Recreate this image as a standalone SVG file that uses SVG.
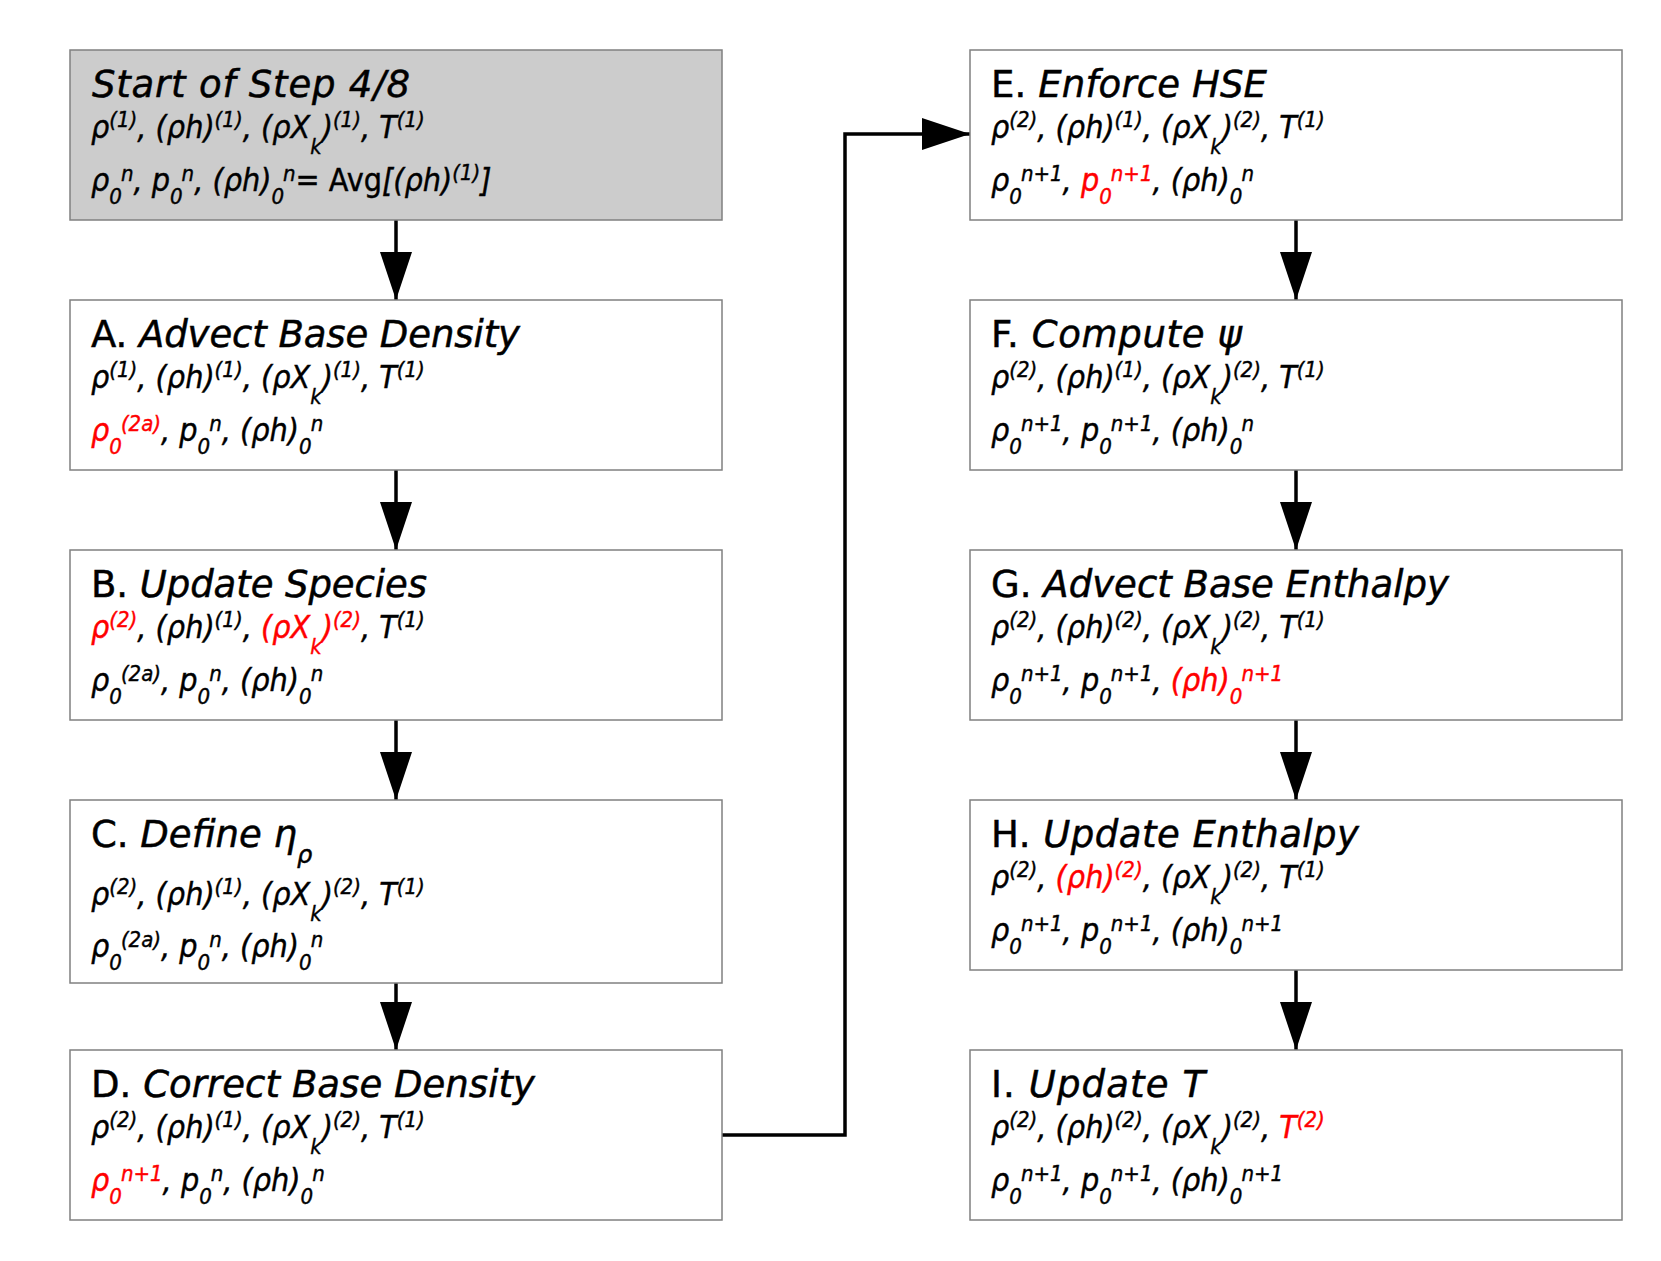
<svg xmlns="http://www.w3.org/2000/svg" width="1661" height="1261" viewBox="0 0 1661 1261">
<style>
.box{fill:#fff;stroke:#808080;stroke-width:1.5}
.gray{fill:#cccccc}
text{font-family:"DejaVu Sans",sans-serif;fill:#000;stroke:#000}
.ttl{font-size:37px;font-style:italic;stroke-width:0.5}
.ln{font-family:"DejaVu Sans Condensed","DejaVu Sans",sans-serif;font-size:32px;font-style:italic;stroke-width:0.4}
.s{font-size:22px}
.u{font-style:normal}
.r{fill:#ff0000;stroke:#ff0000}
.cn{fill:none;stroke:#000;stroke-width:3.5}
</style>
<defs>
<marker id="ah" markerUnits="userSpaceOnUse" markerWidth="48" markerHeight="32" refX="48" refY="16" orient="auto">
<path d="M0,0 L48,16 L0,32 Z" fill="#000"/>
</marker>
</defs>
<rect width="1661" height="1261" fill="#fff"/>
<g id="connectors">
<line class="cn" x1="396" y1="220" x2="396" y2="300" marker-end="url(#ah)"/>
<line class="cn" x1="396" y1="470" x2="396" y2="550" marker-end="url(#ah)"/>
<line class="cn" x1="396" y1="720" x2="396" y2="800" marker-end="url(#ah)"/>
<line class="cn" x1="396" y1="983" x2="396" y2="1050" marker-end="url(#ah)"/>
<polyline class="cn" points="722,1135 845,1135 845,134 970,134" marker-end="url(#ah)"/>
<line class="cn" x1="1296" y1="220" x2="1296" y2="300" marker-end="url(#ah)"/>
<line class="cn" x1="1296" y1="470" x2="1296" y2="550" marker-end="url(#ah)"/>
<line class="cn" x1="1296" y1="720" x2="1296" y2="800" marker-end="url(#ah)"/>
<line class="cn" x1="1296" y1="970" x2="1296" y2="1050" marker-end="url(#ah)"/>
</g>
<g id="start">
<rect class="box gray" x="70" y="50" width="652" height="170"/>
<text class="ttl" x="92" y="97" textLength="318" lengthAdjust="spacing">Start of Step 4/8</text>
<text class="ln" x="91" y="138">ρ<tspan class="s" dy="-11">(1)</tspan><tspan dy="11">, (ρh)</tspan><tspan class="s" dy="-11">(1)</tspan><tspan dy="11">, (ρX</tspan><tspan class="s" dy="16">k</tspan><tspan dy="-16">)</tspan><tspan class="s" dy="-11">(1)</tspan><tspan dy="11">, T</tspan><tspan class="s" dy="-11">(1)</tspan></text>
<text class="ln" x="91" y="191">ρ<tspan class="s" dy="13">0</tspan><tspan class="s" dx="-1" dy="-23">n</tspan><tspan dy="10">, p</tspan><tspan class="s" dy="13">0</tspan><tspan class="s" dx="-1" dy="-23">n</tspan><tspan dy="10">, (ρh)</tspan><tspan class="s" dy="13">0</tspan><tspan class="s" dx="-1" dy="-23">n</tspan><tspan class="u" dy="10">= Avg</tspan><tspan>[(ρh)</tspan><tspan class="s" dy="-11">(1)</tspan><tspan dy="11">]</tspan></text>
</g>
<g id="nodeA">
<rect class="box" x="70" y="300" width="652" height="170"/>
<text class="ttl" x="91" y="347" textLength="429" lengthAdjust="spacing"><tspan class="u">A.</tspan> Advect Base Density</text>
<text class="ln" x="91" y="388">ρ<tspan class="s" dy="-11">(1)</tspan><tspan dy="11">, (ρh)</tspan><tspan class="s" dy="-11">(1)</tspan><tspan dy="11">, (ρX</tspan><tspan class="s" dy="16">k</tspan><tspan dy="-16">)</tspan><tspan class="s" dy="-11">(1)</tspan><tspan dy="11">, T</tspan><tspan class="s" dy="-11">(1)</tspan></text>
<text class="ln" x="91" y="441"><tspan class="r">ρ</tspan><tspan class="s r" dy="13">0</tspan><tspan class="s r" dx="-1" dy="-23">(2a)</tspan><tspan dy="10">, p</tspan><tspan class="s" dy="13">0</tspan><tspan class="s" dx="-1" dy="-23">n</tspan><tspan dy="10">, (ρh)</tspan><tspan class="s" dy="13">0</tspan><tspan class="s" dx="-1" dy="-23">n</tspan></text>
</g>
<g id="nodeB">
<rect class="box" x="70" y="550" width="652" height="170"/>
<text class="ttl" x="91" y="597" textLength="336" lengthAdjust="spacing"><tspan class="u">B.</tspan> Update Species</text>
<text class="ln" x="91" y="638"><tspan class="r">ρ</tspan><tspan class="s r" dy="-11">(2)</tspan><tspan dy="11">, (ρh)</tspan><tspan class="s" dy="-11">(1)</tspan><tspan dy="11">, </tspan><tspan class="r">(ρX</tspan><tspan class="s r" dy="16">k</tspan><tspan class="r" dy="-16">)</tspan><tspan class="s r" dy="-11">(2)</tspan><tspan dy="11">, T</tspan><tspan class="s" dy="-11">(1)</tspan></text>
<text class="ln" x="91" y="691">ρ<tspan class="s" dy="13">0</tspan><tspan class="s" dx="-1" dy="-23">(2a)</tspan><tspan dy="10">, p</tspan><tspan class="s" dy="13">0</tspan><tspan class="s" dx="-1" dy="-23">n</tspan><tspan dy="10">, (ρh)</tspan><tspan class="s" dy="13">0</tspan><tspan class="s" dx="-1" dy="-23">n</tspan></text>
</g>
<g id="nodeC">
<rect class="box" x="70" y="800" width="652" height="183"/>
<text class="ttl" x="91" y="847"><tspan class="u">C.</tspan> Define η<tspan dy="16" style="font-size:24px">ρ</tspan></text>
<text class="ln" x="91" y="905">ρ<tspan class="s" dy="-11">(2)</tspan><tspan dy="11">, (ρh)</tspan><tspan class="s" dy="-11">(1)</tspan><tspan dy="11">, (ρX</tspan><tspan class="s" dy="16">k</tspan><tspan dy="-16">)</tspan><tspan class="s" dy="-11">(2)</tspan><tspan dy="11">, T</tspan><tspan class="s" dy="-11">(1)</tspan></text>
<text class="ln" x="91" y="957">ρ<tspan class="s" dy="13">0</tspan><tspan class="s" dx="-1" dy="-23">(2a)</tspan><tspan dy="10">, p</tspan><tspan class="s" dy="13">0</tspan><tspan class="s" dx="-1" dy="-23">n</tspan><tspan dy="10">, (ρh)</tspan><tspan class="s" dy="13">0</tspan><tspan class="s" dx="-1" dy="-23">n</tspan></text>
</g>
<g id="nodeD">
<rect class="box" x="70" y="1050" width="652" height="170"/>
<text class="ttl" x="91" y="1097" textLength="444" lengthAdjust="spacing"><tspan class="u">D.</tspan> Correct Base Density</text>
<text class="ln" x="91" y="1138">ρ<tspan class="s" dy="-11">(2)</tspan><tspan dy="11">, (ρh)</tspan><tspan class="s" dy="-11">(1)</tspan><tspan dy="11">, (ρX</tspan><tspan class="s" dy="16">k</tspan><tspan dy="-16">)</tspan><tspan class="s" dy="-11">(2)</tspan><tspan dy="11">, T</tspan><tspan class="s" dy="-11">(1)</tspan></text>
<text class="ln" x="91" y="1191"><tspan class="r">ρ</tspan><tspan class="s r" dy="13">0</tspan><tspan class="s r" dx="-1" dy="-23">n+1</tspan><tspan dy="10">, p</tspan><tspan class="s" dy="13">0</tspan><tspan class="s" dx="-1" dy="-23">n</tspan><tspan dy="10">, (ρh)</tspan><tspan class="s" dy="13">0</tspan><tspan class="s" dx="-1" dy="-23">n</tspan></text>
</g>
<g id="nodeE">
<rect class="box" x="970" y="50" width="652" height="170"/>
<text class="ttl" x="991" y="97" textLength="276" lengthAdjust="spacing"><tspan class="u">E.</tspan> Enforce HSE</text>
<text class="ln" x="991" y="138">ρ<tspan class="s" dy="-11">(2)</tspan><tspan dy="11">, (ρh)</tspan><tspan class="s" dy="-11">(1)</tspan><tspan dy="11">, (ρX</tspan><tspan class="s" dy="16">k</tspan><tspan dy="-16">)</tspan><tspan class="s" dy="-11">(2)</tspan><tspan dy="11">, T</tspan><tspan class="s" dy="-11">(1)</tspan></text>
<text class="ln" x="991" y="191">ρ<tspan class="s" dy="13">0</tspan><tspan class="s" dx="-1" dy="-23">n+1</tspan><tspan dy="10">, </tspan><tspan class="r">p</tspan><tspan class="s r" dy="13">0</tspan><tspan class="s r" dx="-1" dy="-23">n+1</tspan><tspan dy="10">, (ρh)</tspan><tspan class="s" dy="13">0</tspan><tspan class="s" dx="-1" dy="-23">n</tspan></text>
</g>
<g id="nodeF">
<rect class="box" x="970" y="300" width="652" height="170"/>
<text class="ttl" x="991" y="347" textLength="251" lengthAdjust="spacing"><tspan class="u">F.</tspan> Compute ψ</text>
<text class="ln" x="991" y="388">ρ<tspan class="s" dy="-11">(2)</tspan><tspan dy="11">, (ρh)</tspan><tspan class="s" dy="-11">(1)</tspan><tspan dy="11">, (ρX</tspan><tspan class="s" dy="16">k</tspan><tspan dy="-16">)</tspan><tspan class="s" dy="-11">(2)</tspan><tspan dy="11">, T</tspan><tspan class="s" dy="-11">(1)</tspan></text>
<text class="ln" x="991" y="441">ρ<tspan class="s" dy="13">0</tspan><tspan class="s" dx="-1" dy="-23">n+1</tspan><tspan dy="10">, p</tspan><tspan class="s" dy="13">0</tspan><tspan class="s" dx="-1" dy="-23">n+1</tspan><tspan dy="10">, (ρh)</tspan><tspan class="s" dy="13">0</tspan><tspan class="s" dx="-1" dy="-23">n</tspan></text>
</g>
<g id="nodeG">
<rect class="box" x="970" y="550" width="652" height="170"/>
<text class="ttl" x="991" y="597" textLength="458" lengthAdjust="spacing"><tspan class="u">G.</tspan> Advect Base Enthalpy</text>
<text class="ln" x="991" y="638">ρ<tspan class="s" dy="-11">(2)</tspan><tspan dy="11">, (ρh)</tspan><tspan class="s" dy="-11">(2)</tspan><tspan dy="11">, (ρX</tspan><tspan class="s" dy="16">k</tspan><tspan dy="-16">)</tspan><tspan class="s" dy="-11">(2)</tspan><tspan dy="11">, T</tspan><tspan class="s" dy="-11">(1)</tspan></text>
<text class="ln" x="991" y="691">ρ<tspan class="s" dy="13">0</tspan><tspan class="s" dx="-1" dy="-23">n+1</tspan><tspan dy="10">, p</tspan><tspan class="s" dy="13">0</tspan><tspan class="s" dx="-1" dy="-23">n+1</tspan><tspan dy="10">, </tspan><tspan class="r">(ρh)</tspan><tspan class="s r" dy="13">0</tspan><tspan class="s r" dx="-1" dy="-23">n+1</tspan></text>
</g>
<g id="nodeH">
<rect class="box" x="970" y="800" width="652" height="170"/>
<text class="ttl" x="991" y="847" textLength="368" lengthAdjust="spacing"><tspan class="u">H.</tspan> Update Enthalpy</text>
<text class="ln" x="991" y="888">ρ<tspan class="s" dy="-11">(2)</tspan><tspan dy="11">, </tspan><tspan class="r">(ρh)</tspan><tspan class="s r" dy="-11">(2)</tspan><tspan dy="11">, (ρX</tspan><tspan class="s" dy="16">k</tspan><tspan dy="-16">)</tspan><tspan class="s" dy="-11">(2)</tspan><tspan dy="11">, T</tspan><tspan class="s" dy="-11">(1)</tspan></text>
<text class="ln" x="991" y="941">ρ<tspan class="s" dy="13">0</tspan><tspan class="s" dx="-1" dy="-23">n+1</tspan><tspan dy="10">, p</tspan><tspan class="s" dy="13">0</tspan><tspan class="s" dx="-1" dy="-23">n+1</tspan><tspan dy="10">, (ρh)</tspan><tspan class="s" dy="13">0</tspan><tspan class="s" dx="-1" dy="-23">n+1</tspan></text>
</g>
<g id="nodeI">
<rect class="box" x="970" y="1050" width="652" height="170"/>
<text class="ttl" x="991" y="1097" textLength="214" lengthAdjust="spacing"><tspan class="u">I.</tspan> Update T</text>
<text class="ln" x="991" y="1138">ρ<tspan class="s" dy="-11">(2)</tspan><tspan dy="11">, (ρh)</tspan><tspan class="s" dy="-11">(2)</tspan><tspan dy="11">, (ρX</tspan><tspan class="s" dy="16">k</tspan><tspan dy="-16">)</tspan><tspan class="s" dy="-11">(2)</tspan><tspan dy="11">, </tspan><tspan class="r">T</tspan><tspan class="s r" dy="-11">(2)</tspan></text>
<text class="ln" x="991" y="1191">ρ<tspan class="s" dy="13">0</tspan><tspan class="s" dx="-1" dy="-23">n+1</tspan><tspan dy="10">, p</tspan><tspan class="s" dy="13">0</tspan><tspan class="s" dx="-1" dy="-23">n+1</tspan><tspan dy="10">, (ρh)</tspan><tspan class="s" dy="13">0</tspan><tspan class="s" dx="-1" dy="-23">n+1</tspan></text>
</g>
</svg>
